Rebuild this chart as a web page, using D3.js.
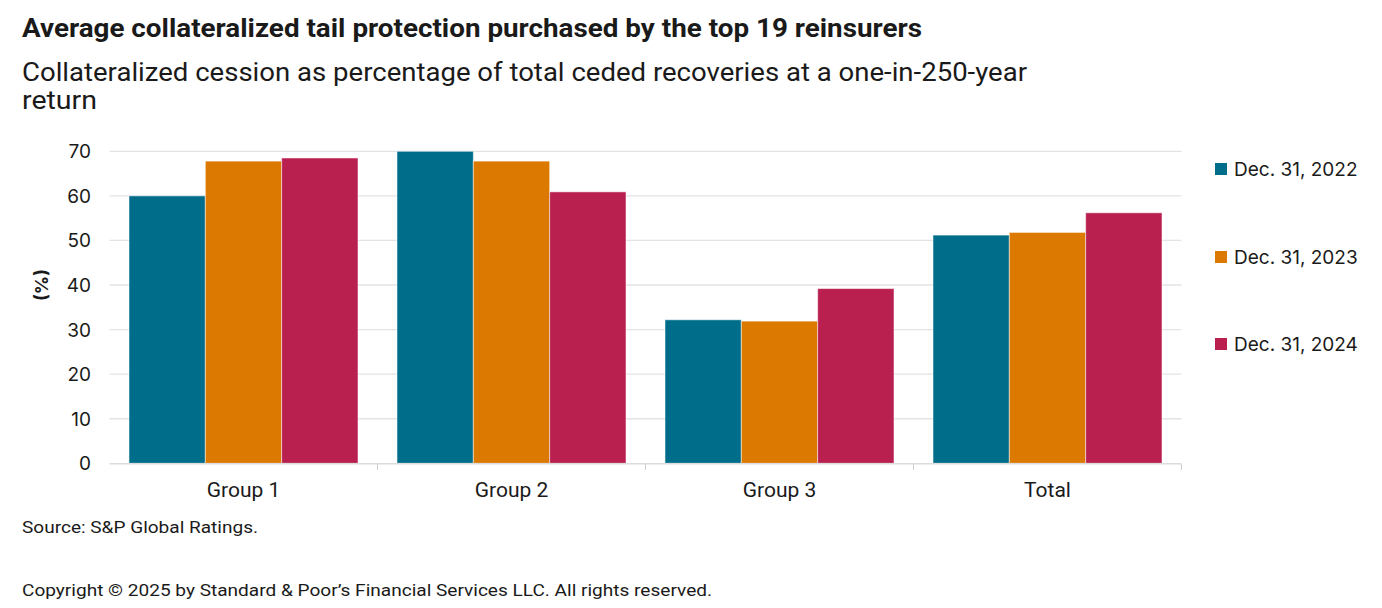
<!DOCTYPE html>
<html>
<head>
<meta charset="utf-8">
<script src="https://cdn.jsdelivr.net/npm/d3@7"></script>
<style>
  body { margin: 0; background: #fff; }
  text { font-family: "Liberation Sans Narrow", "Roboto", "Liberation Sans", sans-serif; fill: #1a1a1a; }
  .num { font-family: "Inter", "Roboto", sans-serif; }
</style>
</head>
<body>
<div id="chart"></div>
<script>
// chart data
var categories = ["Group 1", "Group 2", "Group 3", "Total"];
var seriesNames = ["Dec. 31, 2022", "Dec. 31, 2023", "Dec. 31, 2024"];
var values2022 = [60.0, 70.0, 32.2, 51.2];
var values2023 = [67.8, 67.8, 31.9, 51.8];
var values2024 = [68.5, 60.9, 39.2, 56.2];
var yTicks = [0, 10, 20, 30, 40, 50, 60, 70];
var colors = ["#006e8a", "#dc7900", "#b92050"];

var series = [values2022, values2023, values2024];

var svg = d3.select("#chart")
  .append("svg")
  .attr("width", 1382)
  .attr("height", 608);

// titles
svg.append("text")
  .attr("x", 22).attr("y", 37)
  .attr("font-size", 25).attr("font-weight", "bold")
  .attr("textLength", 900).attr("lengthAdjust", "spacingAndGlyphs")
  .text("Average collateralized tail protection purchased by the top 19 reinsurers");

svg.append("text")
  .attr("x", 22).attr("y", 81)
  .attr("font-size", 25)
  .attr("textLength", 1005).attr("lengthAdjust", "spacingAndGlyphs")
  .text("Collateralized cession as percentage of total ceded recoveries at a one-in-250-year");

svg.append("text")
  .attr("x", 22).attr("y", 109)
  .attr("font-size", 25)
  .attr("textLength", 75).attr("lengthAdjust", "spacingAndGlyphs")
  .text("return");

// scales
var x0 = d3.scaleBand()
  .domain(categories)
  .range([109.5, 1181.5])
  .paddingInner(0)
  .paddingOuter(0);

var x1 = d3.scaleBand()
  .domain(d3.range(seriesNames.length))
  .range([19.5, x0.bandwidth() - 19.5]);

var y = d3.scaleLinear()
  .domain([0, 70])
  .range([463.3, 151.3]);

// gridlines
svg.append("g")
  .selectAll("line")
  .data(yTicks.slice(1))
  .enter()
  .append("line")
  .attr("x1", 109.5).attr("x2", 1181.5)
  .attr("y1", function(d) { return y(d); })
  .attr("y2", function(d) { return y(d); })
  .attr("stroke", "#e3e3e3")
  .attr("stroke-width", 1.3);

// y tick labels
svg.append("g")
  .selectAll("text")
  .data(yTicks)
  .enter()
  .append("text")
  .attr("class", "num")
  .attr("x", 91)
  .attr("y", function(d) { return y(d) + 7; })
  .attr("text-anchor", "end")
  .attr("font-size", 19)
  .attr("fill", "#222")
  .text(function(d) { return d; });

// y axis title
svg.append("text")
  .attr("class", "num")
  .attr("transform", "translate(48,285) rotate(-90)")
  .attr("text-anchor", "middle")
  .attr("font-size", 18)
  .attr("font-weight", "bold")
  .text("(%)");

// bars
var groups = svg.append("g")
  .selectAll("g")
  .data(categories)
  .enter()
  .append("g")
  .attr("transform", function(d) { return "translate(" + x0(d) + ",0)"; });

groups.selectAll("rect")
  .data(function(d, i) {
    return series.map(function(s, j) { return { key: j, value: s[i] }; });
  })
  .enter()
  .append("rect")
  .attr("x", function(d) { return x1(d.key); })
  .attr("width", x1.bandwidth())
  .attr("y", function(d) { return y(d.value); })
  .attr("height", function(d) { return y(0) - y(d.value); })
  .attr("fill", function(d) { return colors[d.key]; })
  .attr("stroke", "#ffffff")
  .attr("stroke-opacity", 0.5)
  .attr("stroke-width", 1);

// x axis
var xAxis = svg.append("g");
xAxis.append("line")
  .attr("x1", 109.5).attr("x2", 1181.5)
  .attr("y1", 463.8).attr("y2", 463.8)
  .attr("stroke", "#dcdcdc")
  .attr("stroke-width", 1.5);

xAxis.selectAll(".tick")
  .data(categories)
  .enter()
  .append("line")
  .attr("x1", function(d) { return x0(d) + x0.bandwidth(); })
  .attr("x2", function(d) { return x0(d) + x0.bandwidth(); })
  .attr("y1", 463.8).attr("y2", 470)
  .attr("stroke", "#cfcfcf")
  .attr("stroke-width", 1);

xAxis.selectAll(".lbl")
  .data(categories)
  .enter()
  .append("text")
  .attr("x", function(d) { return x0(d) + x0.bandwidth() / 2; })
  .attr("y", 497)
  .attr("text-anchor", "middle")
  .attr("font-size", 21)
  .text(function(d) { return d; });

// legend
var legend = svg.append("g")
  .selectAll("g")
  .data(seriesNames)
  .enter()
  .append("g")
  .attr("transform", function(d, i) { return "translate(1215," + [169, 257, 344][i] + ")"; });

legend.append("rect")
  .attr("x", 0).attr("y", -6)
  .attr("width", 12).attr("height", 12)
  .attr("fill", function(d, i) { return colors[i]; });

legend.append("text")
  .attr("class", "num")
  .attr("x", 19)
  .attr("y", 7)
  .attr("font-size", 19)
  .text(function(d) { return d; });

// footer
svg.append("text")
  .attr("x", 22).attr("y", 533)
  .attr("font-size", 17)
  .attr("textLength", 236).attr("lengthAdjust", "spacingAndGlyphs")
  .text("Source: S&P Global Ratings.");

svg.append("text")
  .attr("x", 22).attr("y", 596)
  .attr("font-size", 17)
  .attr("textLength", 690).attr("lengthAdjust", "spacingAndGlyphs")
  .text("Copyright © 2025 by Standard & Poor’s Financial Services LLC. All rights reserved.");
</script>
</body>
</html>
